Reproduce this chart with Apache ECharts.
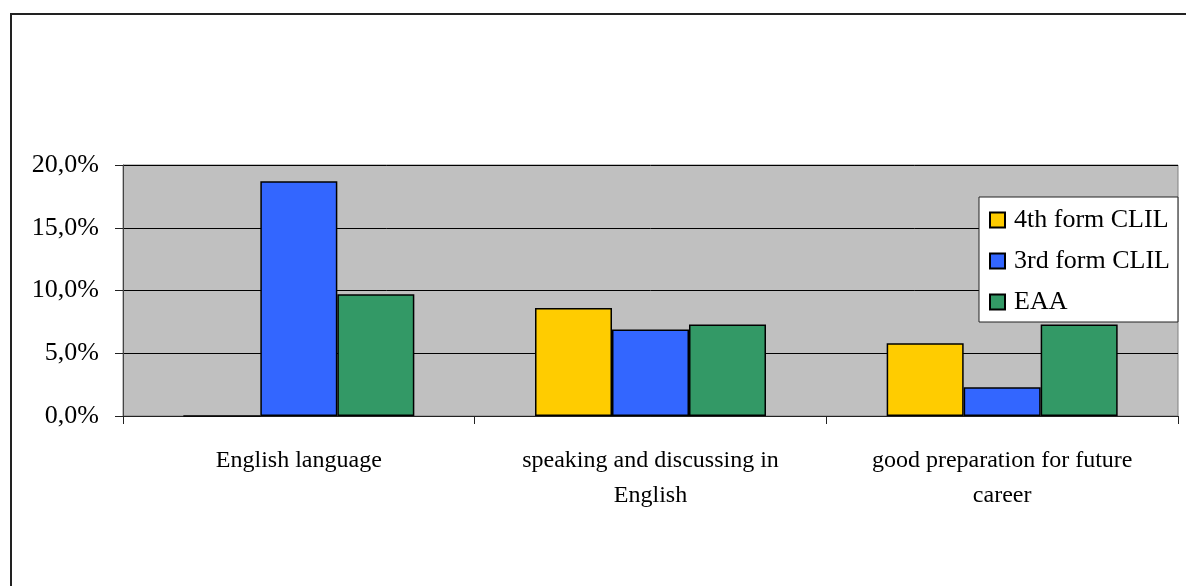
<!DOCTYPE html>
<html>
<head>
<meta charset="utf-8">
<script src="https://cdn.jsdelivr.net/npm/echarts@6/dist/echarts.min.js"></script>
<style>
  html, body { margin: 0; padding: 0; background: #ffffff; }
  #chart { width: 1186px; height: 586px; }
</style>
</head>
<body>
<div id="chart"></div>
<script>
// Survey answers, share of respondents (%)
const categories = [
  'English language',
  'speaking and discussing in\nEnglish',
  'good preparation for future\ncareer'
];
const seriesNames = ['4th form CLIL', '3rd form CLIL', 'EAA'];
const form4Clil = [0, 8.6, 5.8];
const form3Clil = [18.7, 6.9, 2.3];
const eaa = [9.7, 7.3, 7.3];
const yTicks = [0, 5, 10, 15, 20];

const colors = ['#FFCC00', '#3366FF', '#339966'];
const font = '"Liberation Serif", "Times New Roman", serif';

const chart = echarts.init(document.getElementById('chart'), null, { renderer: 'canvas' });

function barSeries(name, data, color) {
  return {
    name: name,
    type: 'bar',
    data: data,
    barWidth: 77,
    barGap: '0%',
    itemStyle: { color: color, borderColor: '#000000', borderWidth: 1.5 },
    emphasis: { disabled: true }
  };
}

chart.setOption({
  animation: false,
  backgroundColor: '#ffffff',
  textStyle: { fontFamily: font },
  graphic: [{
    type: 'rect',
    z: -10,
    shape: { x: 11, y: 14, width: 1400, height: 800 },
    style: { fill: 'none', stroke: '#222222', lineWidth: 2 }
  }],
  grid: {
    left: 123, top: 165, right: 8, bottom: 170,
    show: true,
    backgroundColor: '#C0C0C0',
    borderColor: '#808080',
    borderWidth: 1
  },
  legend: {
    orient: 'vertical',
    left: 979,
    top: 197,
    padding: [10, 8, 7, 10],
    itemGap: 15,
    itemWidth: 15,
    itemHeight: 15,
    backgroundColor: '#ffffff',
    borderColor: '#222222',
    borderWidth: 1,
    borderRadius: 0,
    selectedMode: false,
    icon: 'rect',
    data: seriesNames,
    textStyle: {
      fontFamily: font, fontSize: 26, color: '#000000',
      lineHeight: 26, padding: [0, 0, 0, 4]
    }
  },
  xAxis: {
    type: 'category',
    data: categories,
    axisLine: { show: true, lineStyle: { color: '#222222', width: 1 } },
    axisTick: { show: true, length: 8, lineStyle: { color: '#222222' } },
    axisLabel: {
      fontFamily: font, fontSize: 24, color: '#000000',
      lineHeight: 35, margin: 27, interval: 0
    },
    splitLine: { show: false }
  },
  yAxis: {
    type: 'value',
    min: 0,
    max: yTicks[yTicks.length - 1],
    interval: yTicks[1] - yTicks[0],
    axisLine: { show: true, lineStyle: { color: '#444444', width: 1 } },
    axisTick: { show: true, length: 8, lineStyle: { color: '#222222' } },
    axisLabel: {
      fontFamily: font, fontSize: 26, color: '#000000', margin: 24,
      formatter: function (v) { return v.toFixed(1).replace('.', ',') + '%'; }
    },
    splitLine: { show: true, lineStyle: { color: '#000000', width: 1 } }
  },
  series: [
    barSeries(seriesNames[0], form4Clil, colors[0]),
    barSeries(seriesNames[1], form3Clil, colors[1]),
    barSeries(seriesNames[2], eaa, colors[2])
  ]
});
</script>
</body>
</html>
